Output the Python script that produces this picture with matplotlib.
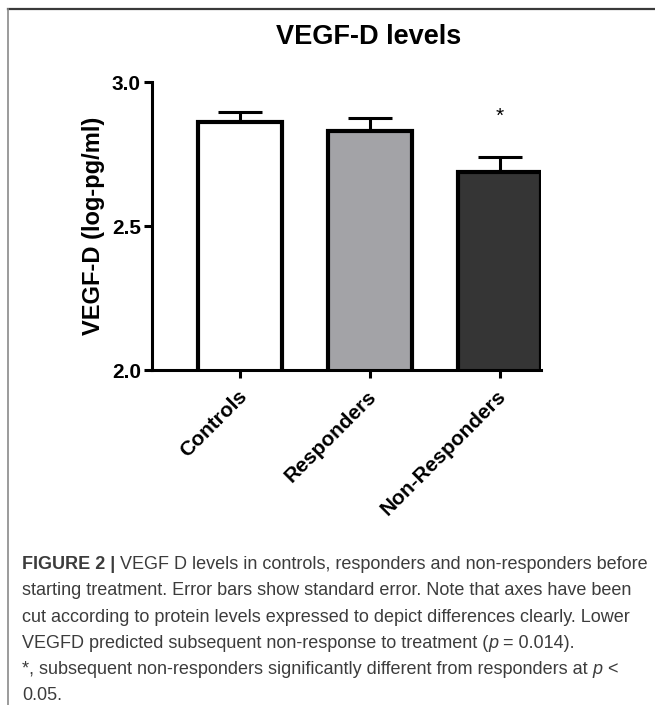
import numpy as np
import matplotlib
matplotlib.use('Agg')
import matplotlib.pyplot as plt
from matplotlib.lines import Line2D
import matplotlib.transforms as mtrans

# data
groups = ['Controls', 'Responders', 'Non-Responders']
means = [2.862, 2.831, 2.686]
sem = [0.035, 0.043, 0.055]
fills = ['#ffffff', '#a3a3a7', '#353535']
sig = [False, False, True]
yticks = [2.0, 2.5, 3.0]

caption = [
    [('FIGURE 2 | ', 'bold', 'normal'),
     ('VEGF D levels in controls, responders and non-responders before', 'normal', 'normal')],
    [('starting treatment. Error bars show standard error. Note that axes have been', 'normal', 'normal')],
    [('cut according to protein levels expressed to depict differences clearly. Lower', 'normal', 'normal')],
    [('VEGFD predicted subsequent non-response to treatment (', 'normal', 'normal'),
     ('p', 'normal', 'italic'), (' = 0.014).', 'normal', 'normal')],
    [('*, subsequent non-responders significantly different from responders at ', 'normal', 'normal'),
     ('p', 'normal', 'italic'), (' <', 'normal', 'normal')],
    [('0.05.', 'normal', 'normal')],
]

plt.rcParams['font.family'] = ['Liberation Sans', 'DejaVu Sans']

W, H = 655, 705
fig = plt.figure(figsize=(W / 100, H / 100), dpi=100)
ax = fig.add_axes([152 / W, 1 - 370 / H, (541 - 152) / W, (370 - 82) / H])

x = np.arange(len(groups))
ax.bar(x, means, width=0.646, color=fills, edgecolor='black', linewidth=3, zorder=3)
ax.errorbar(x, means, yerr=[np.zeros(len(sem)), sem], fmt='none', ecolor='black',
            elinewidth=2.2, capsize=15.5, capthick=2.2, zorder=2)
for i in range(len(groups)):
    if sig[i]:
        ax.annotate('*', (x[i], means[i] + sem[i]), xytext=(0, 29), textcoords='offset points',
                    ha='center', va='center', fontsize=15)

ax.set_xlim(-0.68, 2.32)
ax.set_ylim(2.0, 3.0)
ax.set_yticks(yticks)
ax.set_yticklabels(['%.1f' % t for t in yticks], fontsize=15, fontweight='bold')
ax.set_xticks(x)
ax.set_xticklabels(groups, fontsize=15, fontweight='bold', rotation=45,
                   ha='right', va='top', rotation_mode='anchor')
ax.tick_params(axis='both', length=6, width=2.2, direction='out', pad=2)
ax.tick_params(axis='x', pad=6)
shift = mtrans.ScaledTranslation(-3 / 100, 0, fig.dpi_scale_trans)
for lbl in ax.get_xticklabels():
    lbl.set_transform(lbl.get_transform() + shift)
for s in ['top', 'right']:
    ax.spines[s].set_visible(False)
for s in ['left', 'bottom']:
    ax.spines[s].set_linewidth(2.2)
ax.spines['bottom'].set_zorder(4)
ax.set_ylabel('VEGF-D (log-pg/ml)', fontsize=17, fontweight='bold', labelpad=5)
ax.set_title('VEGF-D levels', fontsize=19.5, fontweight='bold', x=(369 - 152) / (541 - 152), pad=27)

# frame lines of the figure panel
fig.add_artist(Line2D([8 / W, 1], [1 - 8.5 / H, 1 - 8.5 / H], color='#3a3a3a', lw=1.6))
fig.add_artist(Line2D([8 / W, 8 / W], [0, 1 - 8.5 / H], color='#8a8a8a', lw=1.2))

# caption, drawn piece by piece
fig.canvas.draw()
r = fig.canvas.get_renderer()
y0 = 569
for k, line in enumerate(caption):
    xp = 22
    yp = y0 + k * 26.3
    for txt, wt, st in line:
        t = fig.text(xp / W, 1 - yp / H, txt, fontsize=12.95, fontweight=wt, fontstyle=st,
                     color='#3c3c3c', ha='left', va='baseline')
        bb = t.get_window_extent(renderer=r)
        xp += bb.width

fig.savefig('out.png', dpi=100)
